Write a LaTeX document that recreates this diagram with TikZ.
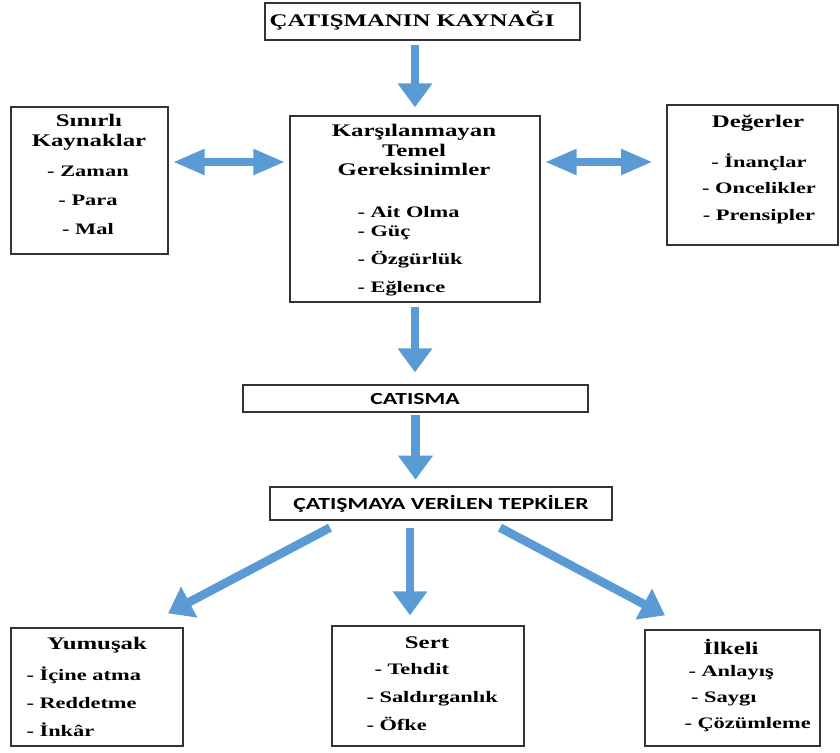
\documentclass[tikz,border=0pt]{standalone}
\usepackage{fontspec}
\setmainfont{Liberation Serif}[FakeStretch=1.4]
\newfontfamily\calibrifont{Carlito}[FakeStretch=1.4]
\usetikzlibrary{arrows.meta,calc,fit}
\definecolor{arrowblue}{RGB}{91,155,213}
\tikzset{every picture/.style={line width=0.75pt}}

\begin{document}
\begin{tikzpicture}[x=0.75pt,y=0.75pt,yscale=-1,xscale=1,
  box/.style={draw=black!80,line width=1pt,inner sep=0pt},
  lbl/.style={inner sep=0pt,font=\bfseries\fontsize{12pt}{14.5pt}\selectfont},
  headlbl/.style={inner sep=0pt,font=\bfseries\fontsize{13.3pt}{14.5pt}\selectfont},
  sanslbl/.style={inner sep=0pt,font=\calibrifont\bfseries\fontsize{12.7pt}{15pt}\selectfont},
  blockarrow/.style={draw=arrowblue,line width=6.5pt,-{Triangle[width=25pt,length=18pt]}},
  twoway/.style={draw=arrowblue,line width=6pt,{Triangle[width=18pt,length=24pt]}-{Triangle[width=18pt,length=24pt]}}]
\useasboundingbox (0,0) rectangle (840,753);

%Shape: Rectangle [source]
\node[box,fit={(265,3) (580,40)}] (kaynak) {};
%Shape: Rectangle [limited resources]
\node[box,fit={(11,107) (168,254)}] (sinirli) {};
%Shape: Rectangle [needs]
\node[box,fit={(290,116) (540,302)}] (gerek) {};
%Shape: Rectangle [values]
\node[box,fit={(667,105) (838,245)}] (deger) {};
%Shape: Rectangle [conflict]
\node[box,fit={(243,385) (588,412)}] (catisma) {};
%Shape: Rectangle [reactions]
\node[box,fit={(270,487) (612,520)}] (tepki) {};
%Shape: Rectangle [soft]
\node[box,fit={(11,628) (183,746)}] (yumusak) {};
%Shape: Rectangle [hard]
\node[box,fit={(332,626) (524,746)}] (sert) {};
%Shape: Rectangle [principled]
\node[box,fit={(645,630) (820,746)}] (ilkeli) {};

%Block arrows
\draw[blockarrow,shorten <=3pt,shorten >=6pt] (kaynak.south -| gerek.north) -- (gerek.north);
\draw[twoway,shorten <=3pt,shorten >=3pt] (sinirli.east |- 0,162) -- (gerek.west |- 0,162);
\draw[twoway,shorten <=3pt,shorten >=10pt] (gerek.east |- 0,162) -- (deger.west |- 0,162);
\draw[blockarrow,shorten <=3pt,shorten >=9pt] (gerek.south) -- (catisma.north -| gerek.south);
\draw[blockarrow,shorten <=2pt,shorten >=5pt] (catisma.south) -- (tepki.north -| catisma.south);
\draw[blockarrow] ($(tepki.south)+(-111,7)$) -- ($(yumusak.north)+(71,-14)$);
\draw[blockarrow] ($(tepki.south)+(-31,7)$) -- ($(sert.north)+(-18,-10)$);
\draw[blockarrow] ($(tepki.south)+(59,7)$) -- ($(ilkeli.north)+(-67.5,-14)$);

% Text Node
\node[headlbl] (kaynakt) at (412,21) {ÇATIŞMANIN KAYNAĞI};
% Text Node
\node[headlbl,align=center,anchor=north] (sinirlit) at (89,114) {Sınırlı\\Kaynaklar};
% Text Node
\node[lbl,align=center,anchor=north] (sinirlii) at (88,166) {- Zaman\\[7pt]- Para\\[7.5pt]- Mal};
% Text Node
\node[headlbl,align=center,anchor=north] (gerekt) at (414,124) {Karşılanmayan\\Temel\\Gereksinimler};
% Text Node
\node[lbl,align=left,anchor=north west] (gereki) at (357,206) {- Ait Olma\\- Güç\\[6pt]- Özgürlük\\[6.5pt]- Eğlence};
% Text Node
\node[headlbl] (degert) at (758,123) {Değerler};
% Text Node
\node[lbl,align=center,anchor=north] (degeri) at (759,153) {- İnançlar\\[5.5pt]- Oncelikler\\[5.5pt]- Prensipler};
% Text Node
\node[sanslbl] (catismat) at (415,399) {CATISMA};
% Text Node
\node[sanslbl] (tepkit) at (441,504) {ÇATIŞMAYA VERİLEN TEPKİLER};
% Text Node
\node[headlbl] (yumusakt) at (97,645) {Yumuşak};
% Text Node
\node[lbl,align=left,anchor=north west] (yumusaki) at (26,666) {- İçine atma\\[6.5pt]- Reddetme\\[6.5pt]- İnkâr};
% Text Node
\node[headlbl] (sertt) at (427,643) {Sert};
% Text Node
\node[lbl,align=left,anchor=north west] (serti) at (366,663) {\hspace{6pt}- Tehdit\\[6.5pt]- Saldırganlık\\[6.5pt]- Öfke};
% Text Node
\node[headlbl] (ilkelit) at (731,647) {İlkeli};
% Text Node
\node[lbl,align=left,anchor=north west] (ilkelii) at (684,665) {\hspace{3pt}- Anlayış\\[5pt]\hspace{5pt}- Saygı\\[5pt]- Çözümleme};

\end{tikzpicture}
\end{document}
